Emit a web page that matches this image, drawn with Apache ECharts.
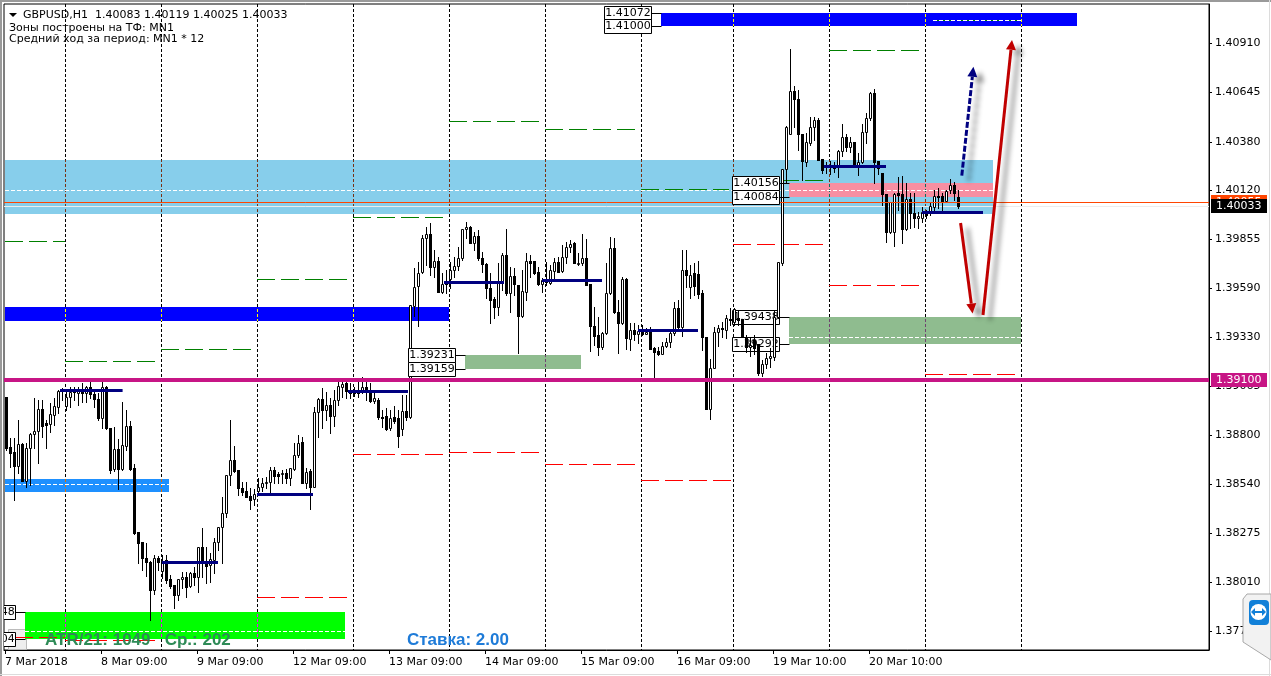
<!DOCTYPE html>
<html>
<head>
<meta charset="utf-8">
<title>GBPUSD,H1</title>
<script src="https://cdn.jsdelivr.net/npm/echarts@6/dist/echarts.min.js"></script>
<style>
html, body { margin: 0; padding: 0; background: #fff; overflow: hidden; }
#chart { width: 1271px; height: 676px; }
</style>
</head>
<body>
<div id="chart"></div>
<script>
// H1 bars, one per row: open, high, low, close
const bars = [
[1.39007,1.39007,1.38720,1.38731],[1.38736,1.38785,1.38628,1.38704],[1.38709,1.38785,1.38453,1.38634],[1.38634,1.38883,1.38596,1.38752],
[1.38752,1.38758,1.38553,1.38553],[1.38553,1.38758,1.38521,1.38731],[1.38731,1.38812,1.38531,1.38807],[1.38807,1.39002,1.38731,1.38823],
[1.38823,1.38991,1.38650,1.38943],[1.38943,1.38991,1.38790,1.38851],[1.38867,1.38883,1.38731,1.38856],[1.38862,1.38975,1.38818,1.38916],
[1.38910,1.39002,1.38856,1.38959],[1.38953,1.39045,1.38921,1.39039],[1.39045,1.39056,1.38991,1.39039],[1.38959,1.39045,1.38937,1.39007],
[1.39007,1.39061,1.38953,1.39034],[1.39045,1.39061,1.38991,1.39034],[1.39029,1.39061,1.38964,1.39039],[1.39039,1.39083,1.38980,1.39029],
[1.39029,1.39067,1.38980,1.39061],[1.39061,1.39088,1.39002,1.39023],[1.39023,1.39045,1.38953,1.38996],[1.38996,1.39029,1.38883,1.38894],
[1.38894,1.39088,1.38840,1.39061],[1.39061,1.39067,1.38834,1.38840],[1.38840,1.38840,1.38596,1.38612],[1.38617,1.38845,1.38607,1.38725],
[1.38725,1.38780,1.38510,1.38617],[1.38617,1.38980,1.38612,1.38747],[1.38742,1.38937,1.38720,1.38851],[1.38851,1.38878,1.38612,1.38617],
[1.38623,1.38644,1.38270,1.38275],[1.38280,1.38280,1.38114,1.38221],[1.38226,1.38226,1.38076,1.38141],[1.38141,1.38221,1.38044,1.38119],
[1.38119,1.38125,1.37807,1.37968],[1.37968,1.38157,1.37946,1.38141],[1.38141,1.38152,1.38076,1.38119],[1.38071,1.38157,1.38033,1.38125],
[1.38130,1.38157,1.38006,1.38022],[1.38028,1.38049,1.37979,1.37990],[1.37995,1.37995,1.37872,1.37941],[1.37941,1.38028,1.37915,1.38028],
[1.38028,1.38065,1.37979,1.38038],[1.38038,1.38065,1.37930,1.37985],[1.37990,1.38065,1.37985,1.38060],[1.38060,1.38092,1.37995,1.38038],
[1.38038,1.38200,1.37957,1.38200],[1.38200,1.38302,1.38038,1.38119],[1.38125,1.38200,1.38006,1.38098],[1.38103,1.38168,1.38012,1.38135],
[1.38130,1.38248,1.38060,1.38226],[1.38226,1.38307,1.38184,1.38307],[1.38307,1.38469,1.38114,1.38383],[1.38383,1.38585,1.38361,1.38585],
[1.38585,1.38883,1.38531,1.38666],[1.38666,1.38742,1.38601,1.38607],[1.38612,1.38612,1.38478,1.38515],[1.38515,1.38548,1.38478,1.38494],
[1.38499,1.38548,1.38467,1.38467],[1.38473,1.38515,1.38404,1.38453],[1.38458,1.38510,1.38426,1.38484],[1.38499,1.38569,1.38478,1.38521],
[1.38521,1.38569,1.38499,1.38542],[1.38542,1.38574,1.38515,1.38548],[1.38548,1.38628,1.38494,1.38612],[1.38612,1.38628,1.38542,1.38580],
[1.38591,1.38601,1.38542,1.38580],[1.38591,1.38612,1.38542,1.38596],[1.38596,1.38617,1.38542,1.38569],[1.38569,1.38623,1.38531,1.38623],
[1.38617,1.38758,1.38612,1.38693],[1.38693,1.38801,1.38682,1.38758],[1.38763,1.38790,1.38542,1.38542],[1.38542,1.38623,1.38515,1.38601],
[1.38607,1.38617,1.38404,1.38521],[1.38521,1.38953,1.38521,1.38926],[1.38926,1.39002,1.38790,1.38996],[1.38996,1.39056,1.38840,1.38937],
[1.38937,1.39034,1.38883,1.38964],[1.38964,1.39002,1.38812,1.38905],[1.38905,1.39045,1.38851,1.38991],[1.38991,1.39088,1.38964,1.39067],
[1.39061,1.39099,1.39007,1.39077],[1.39083,1.39110,1.39002,1.39039],[1.39045,1.39083,1.39002,1.39029],[1.39039,1.39061,1.39013,1.39029],
[1.39045,1.39088,1.39007,1.39029],[1.39034,1.39115,1.39029,1.39061],[1.39061,1.39088,1.38991,1.39034],[1.39045,1.39083,1.38980,1.38986],
[1.38986,1.39029,1.38975,1.39002],[1.38991,1.39002,1.38889,1.38900],[1.38900,1.38937,1.38845,1.38894],[1.38905,1.38948,1.38828,1.38834],
[1.38840,1.38937,1.38828,1.38894],[1.38900,1.38959,1.38867,1.38878],[1.38894,1.38937,1.38736,1.38796],[1.38834,1.39018,1.38801,1.38932],
[1.38932,1.39018,1.38883,1.38900],[1.38900,1.39502,1.38894,1.39502],[1.39497,1.39701,1.39443,1.39599],[1.39604,1.39733,1.39389,1.39675],
[1.39680,1.39879,1.39675,1.39863],[1.39863,1.39922,1.39717,1.39884],[1.39884,1.39943,1.39664,1.39706],[1.39706,1.39798,1.39653,1.39739],
[1.39739,1.39760,1.39572,1.39572],[1.39572,1.39674,1.39567,1.39615],[1.39621,1.39690,1.39567,1.39615],[1.39642,1.39733,1.39594,1.39690],
[1.39690,1.39760,1.39653,1.39712],[1.39712,1.39814,1.39690,1.39755],[1.39755,1.39911,1.39744,1.39911],[1.39911,1.39949,1.39863,1.39922],
[1.39922,1.39927,1.39836,1.39836],[1.39836,1.39895,1.39798,1.39873],[1.39873,1.39906,1.39744,1.39755],[1.39755,1.39787,1.39680,1.39723],
[1.39723,1.39728,1.39540,1.39594],[1.39594,1.39675,1.39405,1.39529],[1.39535,1.39545,1.39432,1.39492],[1.39492,1.39728,1.39448,1.39626],
[1.39626,1.39782,1.39583,1.39771],[1.39771,1.39911,1.39556,1.39567],[1.39567,1.39706,1.39464,1.39658],[1.39658,1.39701,1.39556,1.39615],
[1.39610,1.39610,1.39244,1.39443],[1.39443,1.39690,1.39437,1.39578],[1.39572,1.39782,1.39529,1.39739],[1.39739,1.39771,1.39653,1.39728],
[1.39739,1.39739,1.39669,1.39675],[1.39680,1.39706,1.39610,1.39615],[1.39615,1.39648,1.39572,1.39637],[1.39642,1.39733,1.39610,1.39626],
[1.39621,1.39717,1.39615,1.39690],[1.39685,1.39755,1.39637,1.39733],[1.39733,1.39760,1.39680,1.39680],[1.39685,1.39825,1.39680,1.39760],
[1.39760,1.39841,1.39728,1.39814],[1.39814,1.39852,1.39787,1.39830],[1.39836,1.39841,1.39728,1.39728],[1.39723,1.39782,1.39717,1.39728],
[1.39728,1.39884,1.39717,1.39755],[1.39755,1.39857,1.39610,1.39610],[1.39615,1.39615,1.39254,1.39389],[1.39389,1.39491,1.39286,1.39335],
[1.39340,1.39437,1.39233,1.39276],[1.39276,1.39356,1.39265,1.39351],[1.39351,1.39728,1.39346,1.39567],[1.39567,1.39868,1.39561,1.39809],
[1.39809,1.39863,1.39459,1.39464],[1.39464,1.39529,1.39244,1.39405],[1.39405,1.39653,1.39400,1.39642],[1.39642,1.39648,1.39265,1.39324],
[1.39319,1.39405,1.39260,1.39367],[1.39367,1.39405,1.39313,1.39346],[1.39346,1.39394,1.39297,1.39362],[1.39367,1.39394,1.39340,1.39346],
[1.39346,1.39378,1.39346,1.39356],[1.39362,1.39383,1.39265,1.39265],[1.39270,1.39276,1.39109,1.39249],[1.39254,1.39276,1.39233,1.39238],
[1.39238,1.39302,1.39238,1.39281],[1.39281,1.39324,1.39276,1.39302],[1.39302,1.39367,1.39276,1.39351],[1.39351,1.39518,1.39340,1.39486],
[1.39486,1.39529,1.39378,1.39383],[1.39383,1.39798,1.39335,1.39690],[1.39690,1.39798,1.39599,1.39664],[1.39599,1.39717,1.39540,1.39664],
[1.39675,1.39728,1.39556,1.39604],[1.39669,1.39739,1.39540,1.39561],[1.39567,1.39583,1.39260,1.39330],[1.39330,1.39330,1.38943,1.38943],
[1.38943,1.39211,1.38889,1.39163],[1.39163,1.39383,1.39163,1.39356],[1.39356,1.39394,1.39281,1.39378],[1.39378,1.39410,1.39329,1.39372],
[1.39367,1.39448,1.39324,1.39432],[1.39427,1.39486,1.39394,1.39421],[1.39410,1.39486,1.39394,1.39480],[1.39432,1.39475,1.39394,1.39421],
[1.39427,1.39427,1.39330,1.39330],[1.39330,1.39340,1.39249,1.39276],[1.39276,1.39330,1.39227,1.39286],[1.39313,1.39340,1.39238,1.39270],
[1.39292,1.39292,1.39125,1.39136],[1.39136,1.39206,1.39120,1.39184],[1.39184,1.39244,1.39163,1.39217],[1.39217,1.39270,1.39168,1.39227],
[1.39222,1.39475,1.39206,1.39437],[1.39437,1.39733,1.39432,1.39733],[1.39728,1.40234,1.39717,1.40234],[1.40234,1.40465,1.40164,1.40460],
[1.40422,1.40879,1.40422,1.40653],[1.40653,1.40680,1.40460,1.40610],[1.40610,1.40659,1.40336,1.40422],[1.40422,1.40422,1.40175,1.40277],
[1.40271,1.40427,1.40250,1.40379],[1.40374,1.40514,1.40363,1.40460],[1.40460,1.40514,1.40390,1.40497],[1.40497,1.40508,1.40282,1.40282],
[1.40288,1.40288,1.40212,1.40228],[1.40255,1.40271,1.40212,1.40245],[1.40255,1.40277,1.40207,1.40245],[1.40245,1.40271,1.40218,1.40239],
[1.40245,1.40336,1.40191,1.40331],[1.40331,1.40476,1.40304,1.40406],[1.40406,1.40422,1.40331,1.40352],[1.40352,1.40406,1.40325,1.40379],
[1.40379,1.40379,1.40245,1.40250],[1.40250,1.40320,1.40202,1.40271],[1.40271,1.40476,1.40266,1.40433],[1.40433,1.40535,1.40374,1.40508],
[1.40508,1.40648,1.40497,1.40643],[1.40643,1.40664,1.40158,1.40271],[1.40277,1.40277,1.40207,1.40239],[1.40212,1.40212,1.40040,1.40099],
[1.40099,1.40099,1.39841,1.39895],[1.39895,1.40056,1.39890,1.40056],[1.39895,1.40105,1.39820,1.40099],[1.40105,1.40191,1.40013,1.40094],
[1.40099,1.40196,1.39836,1.39911],[1.39911,1.40158,1.39906,1.40072],[1.40072,1.40105,1.39916,1.39997],[1.39997,1.40105,1.39922,1.39970],
[1.39970,1.40002,1.39916,1.39981],[1.39970,1.40029,1.39949,1.40002],[1.40002,1.40013,1.39970,1.39986],[1.40002,1.40051,1.39986,1.40035],
[1.40029,1.40121,1.40002,1.40088],[1.40088,1.40132,1.40024,1.40083],[1.40088,1.40105,1.40002,1.40062],[1.40062,1.40121,1.40056,1.40115],
[1.40121,1.40180,1.40105,1.40148],[1.40148,1.40164,1.40067,1.40105],[1.40083,1.40119,1.40025,1.40033]
]

// axis labels
const dayTicks = [0, 24, 48, 72, 96, 120, 144, 168, 192, 216]
const dayLabels = ['7 Mar 2018', '8 Mar 09:00', '9 Mar 09:00', '12 Mar 09:00', '13 Mar 09:00', '14 Mar 09:00', '15 Mar 09:00', '16 Mar 09:00', '19 Mar 10:00', '20 Mar 10:00']
const priceTicks = [1.40910, 1.40645, 1.40380, 1.40120, 1.39855, 1.39590, 1.39330, 1.39065, 1.38800, 1.38540, 1.38275, 1.38010, 1.37745]
const dayLines = [15, 39, 63, 87, 111, 135, 159, 182, 206, 230, 254]

// zones: first bar, last bar, upper price, lower price
const skyZones = [[0, 247, 1.40282, 1.39992]]
const pinkZones = [[196, 247, 1.40156, 1.40084]]
const blueZones = [[164, 268, 1.41072, 1.41000], [0, 111, 1.39491, 1.39416]]
const dodgerZones = [[0, 41, 1.38564, 1.38494]]
const limeZones = [[5, 85, 1.37848, 1.37704]]
const sageZones = [[115, 144, 1.39231, 1.39159], [196, 254, 1.39438, 1.39292]]

// levels: first bar, last bar, price
const zoneMidLevels = [[0, 247, 1.40121], [5, 85, 1.37748], [0, 41, 1.38539], [196, 254, 1.39330], [232, 254, 1.41035]]
const greenLevels = [[0, 15, 1.39845], [15, 37.5, 1.39201], [39, 61.5, 1.39265], [63, 85.5, 1.39640], [87, 109.5, 1.39976], [111, 133.5, 1.40490], [135, 157.5, 1.40447], [159, 181, 1.40125], [182, 206, 1.40173], [206, 228.5, 1.40874], [232, 254, 1.41035]]
const redLevels = [[2.5, 15, 1.37718], [15, 37.5, 1.37700], [63, 85.5, 1.37930], [87, 109.5, 1.38699], [111, 133.5, 1.38711], [135, 157.5, 1.38647], [159, 181.5, 1.38558], [182, 204.5, 1.39830], [206, 228.5, 1.39610], [230, 252.5, 1.39128]]
const dayMeanLevels = [[13.75, 29.4, 1.39045], [39.25, 53.25, 1.38119], [63, 77, 1.38484], [85.75, 100.75, 1.39038], [109.75, 124.75, 1.39626], [134.25, 149.25, 1.39637], [158.25, 173.25, 1.39367], [204.75, 220.25, 1.40250], [229.25, 244.5, 1.40002]]
const monthLevel = 1.39100
const askPrice = 1.40055
const bidPrice = 1.40033

// zone edge labels: first bar of the zone, price
const frontBoxes = [[164, 1.41072], [164, 1.41000], [115, 1.39231], [115, 1.39159], [196, 1.40156], [196, 1.40084], [5, 1.37848], [5, 1.37704]]
const backBoxes = [[196, 1.39438], [196, 1.39292]]

// hand drawn arrows: from bar, from price, to bar, to price
const scenarioArrow = [[239.2, 1.40198, 242.1, 1.40783]]
const tradeArrows = [[238.9, 1.39943, 241.9, 1.39456], [244.5, 1.39448, 251.75, 1.40928]]

const symbolName = 'GBPUSD,H1'
const zoneNote = 'Зоны построены на ТФ: MN1'
const rangeNote = 'Средний ход за период: MN1 * 12'
const atrNote = 'ATR/21: 1049   Ср.: 202'
const rateNote = 'Ставка: 2.00'

const uiFont = '"DejaVu Sans", sans-serif'
const priceMin = 1.37646
const priceMax = 1.41121
const crisp = v => Math.round(v) + 0.5

// zone colours, drawing order matters for the separators too
const zoneLayers = [
  { rows: skyZones, color: '#87CEEB', inverse: '#783114', z: 1 },
  { rows: pinkZones, color: '#F78FA2', inverse: '#08705D', z: 2 },
  { rows: blueZones, color: '#0000FF', inverse: '#FFFF00', z: 2 },
  { rows: dodgerZones, color: '#1E90FF', inverse: '#E16F00', z: 2 },
  { rows: limeZones, color: '#00FF00', inverse: '#FF00FF', z: 2 },
  { rows: sageZones, color: '#8FBC8F', inverse: '#704370', z: 2 }
]

// rectangles between two bars and two prices
const zoneSeries = ({ rows, color, z }) => ({
  type: 'custom', z, silent: true, clip: true,
  data: rows,
  encode: { x: [0, 1], y: [2, 3] },
  renderItem: (params, api) => {
    const a = api.coord([api.value(0), api.value(2)])
    const b = api.coord([api.value(1), api.value(3)])
    return {
      type: 'rect',
      shape: { x: Math.round(a[0]), y: Math.round(a[1]), width: Math.round(b[0]) - Math.round(a[0]), height: Math.round(b[1]) - Math.round(a[1]) },
      style: { fill: color }
    }
  }
})

// horizontal segments between two bars
const levelSeries = (rows, style, z) => ({
  type: 'custom', z, silent: true, clip: true,
  data: rows,
  encode: { x: [0, 1], y: 2 },
  renderItem: (params, api) => {
    const a = api.coord([api.value(0), api.value(2)])
    const b = api.coord([api.value(1), api.value(2)])
    const y = style.lineWidth % 2 ? crisp(a[1]) : Math.round(a[1])
    return { type: 'line', shape: { x1: a[0], y1: y, x2: b[0], y2: y }, style: { fill: null, ...style } }
  }
})

// day separators: black dashes, inverted colour where they cross a zone
const separatorDash = [3, 2]
const separatorSeries = z => ({
  type: 'custom', z, silent: true, clip: true,
  data: dayLines.map(b => [b]),
  encode: { x: 0 },
  renderItem: (params, api) => {
    const bar = api.value(0)
    const top = api.coord([bar, priceMax])
    const bottom = api.coord([bar, priceMin])
    const x = crisp(top[0])
    const children = [{ type: 'line', shape: { x1: x, y1: top[1], x2: x, y2: bottom[1] }, style: { stroke: '#000', lineWidth: 1, lineDash: separatorDash, fill: null } }]
    zoneLayers.forEach(layer => {
      layer.rows.forEach(zone => {
        if (bar < zone[0] || bar >= zone[1]) return
        const y1 = Math.round(api.coord([bar, zone[2]])[1])
        const y2 = Math.round(api.coord([bar, zone[3]])[1])
        children.push({ type: 'rect', shape: { x: x - 0.5, y: y1, width: 1, height: y2 - y1 }, style: { fill: layer.color } })
        children.push({ type: 'line', shape: { x1: x, y1, x2: x, y2 }, style: { stroke: layer.inverse, lineWidth: 1, lineDash: separatorDash, lineDashOffset: (y1 - top[1]) % 5, fill: null } })
      })
    })
    return { type: 'group', children }
  }
})

// white box with the zone price, tied to the zone edge
const boxSeries = (rows, z) => ({
  type: 'custom', z, silent: true, clip: true,
  data: rows,
  encode: { x: 0, y: 1 },
  renderItem: (params, api) => {
    const p = api.coord([api.value(0), api.value(1)])
    const right = Math.round(p[0]) - 9.5
    const y = crisp(p[1])
    return {
      type: 'group',
      children: [
        { type: 'line', shape: { x1: right, y1: y, x2: right + 10, y2: y }, style: { stroke: '#000', lineWidth: 1 } },
        { type: 'rect', shape: { x: right - 47, y: y - 7, width: 47, height: 14 }, style: { fill: '#fff', stroke: '#000', lineWidth: 1 } },
        { type: 'text', style: { x: right - 23.5, y, text: api.value(1).toFixed(5), fill: '#000', font: '11px ' + uiFont, align: 'center', verticalAlign: 'middle' } }
      ]
    }
  }
})

// price tag on the right of the plot
const tagSeries = (price, color, z) => ({
  type: 'custom', z, silent: true, clip: false,
  data: [[301, price]],
  encode: { x: 0, y: 1 },
  renderItem: (params, api) => {
    const p = api.coord([301, api.value(1)])
    const y = Math.round(p[1])
    return {
      type: 'group',
      children: [
        { type: 'rect', shape: { x: p[0] + 2, y: y - 7, width: 56, height: 14 }, style: { fill: color } },
        { type: 'text', style: { x: p[0] + 7, y, text: api.value(1).toFixed(5), fill: '#fff', font: '11px ' + uiFont, align: 'left', verticalAlign: 'middle' } }
      ]
    }
  }
})

const arrowSeries = (rows, color, lineDash, z) => ({
  type: 'custom', z, silent: true, clip: false,
  data: rows,
  encode: { x: [0, 2], y: [1, 3] },
  renderItem: (params, api) => {
    const a = api.coord([api.value(0), api.value(1)])
    const b = api.coord([api.value(2), api.value(3)])
    const ang = Math.atan2(b[1] - a[1], b[0] - a[0])
    const ux = Math.cos(ang), uy = Math.sin(ang)
    const base = [b[0] - ux * 10, b[1] - uy * 10]
    const shadow = { shadowColor: 'rgba(0,0,0,0.45)', shadowBlur: 5, shadowOffsetX: 7, shadowOffsetY: 5 }
    return {
      type: 'group',
      children: [
        { type: 'line', shape: { x1: a[0], y1: a[1], x2: base[0], y2: base[1] }, style: { stroke: color, lineWidth: 3, lineDash, fill: null, ...shadow } },
        {
          type: 'polygon',
          shape: { points: [b, [base[0] - uy * 5, base[1] + ux * 5], [base[0] + uy * 5, base[1] - ux * 5]] },
          style: { fill: color, ...shadow }
        }
      ]
    }
  }
})

const chartDom = document.getElementById('chart')
const chart = echarts.init(chartDom)

const lastBar = bars[bars.length - 1]

const option = {
  animation: false,
  backgroundColor: '#fff',
  grid: { left: 4, top: 4, right: 62, bottom: 26, show: true, borderColor: '#000', borderWidth: 1, backgroundColor: 'transparent' },
  xAxis: {
    type: 'value', min: -0.25, max: 301,
    splitLine: { show: false },
    axisLine: { show: true, onZero: false, lineStyle: { color: '#000' } },
    axisTick: { show: true, length: 4, customValues: dayTicks, lineStyle: { color: '#000' } },
    axisLabel: {
      customValues: dayTicks,
      formatter: v => dayLabels[dayTicks.indexOf(v)],
      color: '#000', fontFamily: 'DejaVu Sans', fontSize: 11, align: 'left', margin: 7
    }
  },
  yAxis: {
    type: 'value', position: 'right', min: priceMin, max: priceMax,
    splitLine: { show: false },
    axisLine: { show: true, onZero: false, lineStyle: { color: '#000' } },
    axisTick: { show: true, length: 3, customValues: priceTicks, lineStyle: { color: '#000' } },
    axisLabel: {
      customValues: priceTicks,
      formatter: v => v.toFixed(5),
      color: '#000', fontFamily: 'DejaVu Sans', fontSize: 11, margin: 6
    }
  },
  series: [
    ...zoneLayers.map(zoneSeries),
    separatorSeries(3),
    levelSeries(greenLevels, { stroke: '#008000', lineWidth: 1, lineDash: [18, 6] }, 4),
    levelSeries(redLevels, { stroke: '#FF0000', lineWidth: 1, lineDash: [18, 6] }, 4),
    levelSeries(zoneMidLevels, { stroke: '#fff', lineWidth: 1, lineDash: [4, 2] }, 4),
    levelSeries([[-0.25, 301, bidPrice]], { stroke: '#EDEDED', lineWidth: 1 }, 4),
    boxSeries(backBoxes, 5),
    // candles
    {
      type: 'custom', z: 6, silent: true, clip: true,
      data: bars.map((b, i) => [i, ...b]),
      encode: { x: 0, y: [1, 2, 3, 4] },
      renderItem: (params, api) => {
        const i = api.value(0)
        const o = api.coord([i + 0.25, api.value(1)])
        const h = api.coord([i + 0.25, api.value(2)])
        const l = api.coord([i + 0.25, api.value(3)])
        const c = api.coord([i + 0.25, api.value(4)])
        const x = crisp(o[0])
        const up = api.value(4) >= api.value(1)
        const top = Math.round(Math.min(o[1], c[1]))
        const bottom = Math.round(Math.max(o[1], c[1]))
        const wick = { type: 'line', shape: { x1: x, y1: Math.round(h[1]), x2: x, y2: Math.round(l[1]) + 1 }, style: { stroke: '#000', lineWidth: 1 } }
        const body = up
          ? { type: 'rect', shape: { x: x - 1, y: top + 0.5, width: 2, height: bottom - top }, style: { fill: '#fff', stroke: '#000', lineWidth: 1 } }
          : { type: 'rect', shape: { x: x - 1.5, y: top, width: 3, height: bottom - top + 1 }, style: { fill: '#000' } }
        return { type: 'group', children: [wick, body] }
      }
    },
    levelSeries(dayMeanLevels, { stroke: '#000080', lineWidth: 3 }, 7),
    levelSeries([[-0.25, 301, monthLevel]], { stroke: '#C71585', lineWidth: 4 }, 7),
    levelSeries([[-0.25, 301, askPrice]], { stroke: '#FF4500', lineWidth: 1 }, 7),
    boxSeries(frontBoxes, 8),
    arrowSeries(scenarioArrow, '#000080', [6, 2], 9),
    arrowSeries(tradeArrows, '#C00000', null, 9),
    tagSeries(askPrice, '#FF4500', 10),
    tagSeries(bidPrice, '#000', 11),
    tagSeries(monthLevel, '#C71585', 11)
  ],
  graphic: [
    // window frame
    { type: 'rect', z: 30, silent: true, shape: { x: 0, y: 0, width: 2, height: 676 }, style: { fill: '#9a9a9a' } },
    { type: 'rect', z: 30, silent: true, shape: { x: 0, y: 0, width: 1271, height: 2 }, style: { fill: '#9a9a9a' } },
    { type: 'rect', z: 30, silent: true, shape: { x: 1269, y: 0, width: 1, height: 676 }, style: { fill: '#dcdcdc' } },
    { type: 'rect', z: 30, silent: true, shape: { x: 0, y: 674, width: 1271, height: 1 }, style: { fill: '#dcdcdc' } },
    // header
    { type: 'polygon', z: 30, silent: true, shape: { points: [[9, 13], [17, 13], [13, 17]] }, style: { fill: '#000' } },
    { type: 'text', z: 30, silent: true, style: { x: 23, y: 15, text: symbolName + '  ' + lastBar.map(v => v.toFixed(5)).join(' '), fill: '#000', font: '11px ' + uiFont, verticalAlign: 'middle' } },
    { type: 'text', z: 30, silent: true, style: { x: 9, y: 28, text: zoneNote, fill: '#000', font: '11px ' + uiFont, verticalAlign: 'middle' } },
    { type: 'text', z: 30, silent: true, style: { x: 9, y: 39, text: rangeNote, fill: '#000', font: '11px ' + uiFont, verticalAlign: 'middle' } },
    // indicator notes at the bottom
    { type: 'text', z: 30, silent: true, style: { x: 45, y: 640, text: atrNote, fill: '#2E8B57', font: 'bold 17px "Liberation Sans", sans-serif', verticalAlign: 'middle' } },
    { type: 'text', z: 30, silent: true, style: { x: 407, y: 640, text: rateNote, fill: '#1E7BD8', font: 'bold 17px "Liberation Sans", sans-serif', verticalAlign: 'middle' } },
    // old label peeking out at the bottom left
    { type: 'rect', z: 0, silent: true, shape: { x: 8.5, y: 629.5, width: 18, height: 20 }, style: { fill: '#eee', stroke: '#bbb', lineWidth: 1 } },
    // remote desktop tab over the axis
    { type: 'polygon', z: 30, silent: true, shape: { points: [[1243, 599], [1247, 594], [1271, 594], [1271, 660], [1243, 642]] }, style: { fill: '#f2f2f2', stroke: '#a8a8a8', lineWidth: 1 } },
    { type: 'rect', z: 31, silent: true, shape: { x: 1249, y: 600, width: 20, height: 25, r: 4 }, style: { fill: '#1180D8' } },
    { type: 'circle', z: 32, silent: true, shape: { cx: 1258.5, cy: 612, r: 8 }, style: { fill: '#fff' } },
    { type: 'rect', z: 33, silent: true, shape: { x: 1254, y: 611, width: 9, height: 2 }, style: { fill: '#1180D8' } },
    { type: 'polygon', z: 33, silent: true, shape: { points: [[1251, 612], [1255, 608], [1255, 616]] }, style: { fill: '#1180D8' } },
    { type: 'polygon', z: 33, silent: true, shape: { points: [[1266, 612], [1262, 608], [1262, 616]] }, style: { fill: '#1180D8' } }
  ]
}

chart.setOption(option)

window.addEventListener('resize', () => chart.resize())
</script>
</body>
</html>
